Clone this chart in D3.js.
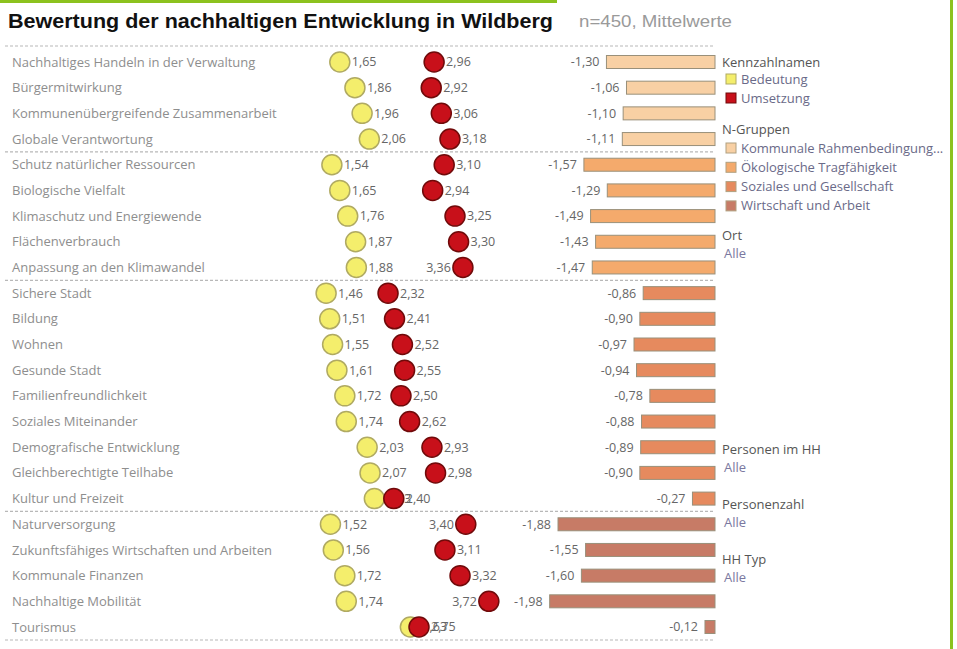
<!DOCTYPE html>
<html>
<head>
<meta charset="utf-8">
<script src="https://cdn.jsdelivr.net/npm/d3@7"></script>
<style>
  body { margin: 0; background: #fff; }
  svg { display: block; }
</style>
</head>
<body>
<svg width="957" height="649"></svg>
<script>
// Kennzahlen je Thema (Bedeutung / Umsetzung / Differenz)
var themen = [
  "Nachhaltiges Handeln in der Verwaltung", "Bürgermitwirkung", "Kommunenübergreifende Zusammenarbeit",
  "Globale Verantwortung", "Schutz natürlicher Ressourcen", "Biologische Vielfalt",
  "Klimaschutz und Energiewende", "Flächenverbrauch", "Anpassung an den Klimawandel",
  "Sichere Stadt", "Bildung", "Wohnen", "Gesunde Stadt", "Familienfreundlichkeit",
  "Soziales Miteinander", "Demografische Entwicklung", "Gleichberechtigte Teilhabe",
  "Kultur und Freizeit", "Naturversorgung", "Zukunftsfähiges Wirtschaften und Arbeiten",
  "Kommunale Finanzen", "Nachhaltige Mobilität", "Tourismus"
];
var bedeutung = [1.65, 1.86, 1.96, 2.06, 1.54, 1.65, 1.76, 1.87, 1.88, 1.46, 1.51, 1.55, 1.61, 1.72,
                 1.74, 2.03, 2.07, 2.13, 1.52, 1.56, 1.72, 1.74, 2.63];
var umsetzung = [2.96, 2.92, 3.06, 3.18, 3.10, 2.94, 3.25, 3.30, 3.36, 2.32, 2.41, 2.52, 2.55, 2.50,
                 2.62, 2.93, 2.98, 2.40, 3.40, 3.11, 3.32, 3.72, 2.75];
var differenz = [-1.30, -1.06, -1.10, -1.11, -1.57, -1.29, -1.49, -1.43, -1.47, -0.86, -0.90, -0.97,
                 -0.94, -0.78, -0.88, -0.89, -0.90, -0.27, -1.88, -1.55, -1.60, -1.98, -0.12];
var gruppe = [0, 0, 0, 0, 1, 1, 1, 1, 1, 2, 2, 2, 2, 2, 2, 2, 2, 2, 3, 3, 3, 3, 3];
var gruppenNamen = ["Kommunale Rahmenbedingung...", "Ökologische Tragfähigkeit",
                    "Soziales und Gesellschaft", "Wirtschaft und Arbeit"];
var gruppenFarben = ["#f8d0a4", "#f4aa6c", "#e68a5e", "#c77b66"];

var rows = themen.map(function(t, i) {
  return { name: t, bed: bedeutung[i], ums: umsetzung[i], diff: differenz[i], g: gruppe[i] };
});

// deutsches Zahlenformat, Bindestrich als Minus
var fmt = function(v) { return d3.format(".2f")(v).replace(".", ",").replace("\u2212", "-"); };

var svg = d3.select("svg");

// grüne Rahmenlinien
svg.append("rect").attr("x", 0).attr("y", 0).attr("width", 557).attr("height", 3).attr("fill", "#8cc21e");
svg.append("rect").attr("x", 950).attr("y", 0).attr("width", 3).attr("height", 649).attr("fill", "#8cc21e");

// Titel
svg.append("text").attr("x", 8).attr("y", 28)
  .attr("font-family", "Liberation Sans, Arial, sans-serif").attr("font-weight", "bold")
  .attr("font-size", 20.5).attr("fill", "#111")
  .attr("textLength", 545).attr("lengthAdjust", "spacingAndGlyphs")
  .text("Bewertung der nachhaltigen Entwicklung in Wildberg");
svg.append("text").attr("x", 579).attr("y", 27)
  .attr("font-family", "Liberation Sans, Arial, sans-serif")
  .attr("font-size", 17).attr("fill", "#9a9a9a")
  .attr("textLength", 153).attr("lengthAdjust", "spacingAndGlyphs")
  .text("n=450, Mittelwerte");

var y = d3.scalePoint().domain(themen).range([62, 627]);
var step = y.step();
var xDot = d3.scaleLinear().domain([1, 4]).range([293, 509]);
var barW = d3.scaleLinear().domain([0, 2]).range([0, 167]);
var barRight = 715;

var font = "Open Sans, DejaVu Sans, sans-serif";

// Trennlinien
var seps = [y(themen[0]) - 16];
rows.forEach(function(d, i) {
  if (i < rows.length - 1 && rows[i + 1].g !== d.g) seps.push(y(d.name) + step / 2);
});
seps.push(y(themen[themen.length - 1]) + 13);
svg.append("g").selectAll("line").data(seps).enter().append("line")
  .attr("x1", 5).attr("x2", 715).attr("y1", d => d).attr("y2", d => d)
  .attr("stroke", "#b8b8b8").attr("stroke-width", 1.2).attr("stroke-dasharray", "3,2");

// Themenbeschriftungen
svg.append("g").selectAll("text").data(rows).enter().append("text")
  .attr("x", 12).attr("y", d => y(d.name)).attr("dy", "0.35em")
  .attr("font-family", font).attr("font-size", 13).attr("fill", "#8e8e8e")
  .text(d => d.name);

// Balken (Differenz)
var bars = svg.append("g");
bars.selectAll("rect").data(rows).enter().append("rect")
  .attr("x", d => barRight - barW(-d.diff)).attr("y", d => y(d.name) - 6.5)
  .attr("width", d => barW(-d.diff)).attr("height", 13)
  .attr("fill", d => gruppenFarben[d.g]).attr("stroke", "#99907a").attr("stroke-width", 1);
bars.selectAll("text").data(rows).enter().append("text")
  .attr("x", d => barRight - barW(-d.diff) - 7).attr("y", d => y(d.name)).attr("dy", "0.35em")
  .attr("text-anchor", "end").attr("font-family", font).attr("font-size", 12.5).attr("fill", "#666")
  .text(d => fmt(d.diff));

// Punkte: Bedeutung
var dots = svg.append("g");
dots.selectAll("circle.bed").data(rows).enter().append("circle").attr("class", "bed")
  .attr("cx", d => xDot(d.bed)).attr("cy", d => y(d.name)).attr("r", 10)
  .attr("fill", "#f4ee6c").attr("stroke", "#b0aa62").attr("stroke-width", 1.5);
dots.selectAll("text.bed").data(rows).enter().append("text").attr("class", "bed")
  .attr("x", d => xDot(d.bed) + 12).attr("y", d => y(d.name)).attr("dy", "0.35em")
  .attr("font-family", font).attr("font-size", 12.5).attr("fill", "#666")
  .text(d => fmt(d.bed));

// Punkte: Umsetzung
dots.selectAll("circle.ums").data(rows).enter().append("circle").attr("class", "ums")
  .attr("cx", d => xDot(d.ums)).attr("cy", d => y(d.name)).attr("r", 10)
  .attr("fill", "#c8101a").attr("stroke", "#700a0a").attr("stroke-width", 1.5);
dots.selectAll("text.ums").data(rows).enter().append("text").attr("class", "ums")
  .attr("x", d => d.ums >= 3.35 ? xDot(d.ums) - 12 : xDot(d.ums) + 12)
  .attr("text-anchor", d => d.ums >= 3.35 ? "end" : "start")
  .attr("y", d => y(d.name)).attr("dy", "0.35em")
  .attr("font-family", font).attr("font-size", 12.5).attr("fill", "#666")
  .text(d => fmt(d.ums));

// Legende
var lg = svg.append("g").attr("font-family", font).attr("font-size", 13);
var heads = [["Kennzahlnamen", 62], ["N-Gruppen", 129], ["Ort", 235], ["Personen im HH", 449],
             ["Personenzahl", 504], ["HH Typ", 559]];
lg.selectAll("text.head").data(heads).enter().append("text").attr("class", "head")
  .attr("x", 722).attr("y", d => d[1]).attr("dy", "0.35em").attr("fill", "#555").text(d => d[0]);
var alle = [253, 467, 522, 577];
lg.selectAll("text.alle").data(alle).enter().append("text").attr("class", "alle")
  .attr("x", 724).attr("y", d => d).attr("dy", "0.35em").attr("fill", "#7a78a0").text("Alle");

var items = [
  { name: "Bedeutung", fill: "#f4ee6c", stroke: "#b0aa62", y: 79 },
  { name: "Umsetzung", fill: "#c8101a", stroke: "#700a0a", y: 98 }
].concat(gruppenNamen.map(function(n, i) {
  return { name: n, fill: gruppenFarben[i], stroke: "#b0a080", y: 148 + i * 19.3 };
}));
lg.selectAll("rect.item").data(items).enter().append("rect").attr("class", "item")
  .attr("x", 726).attr("y", d => d.y - 5).attr("width", 10).attr("height", 10)
  .attr("fill", d => d.fill).attr("stroke", d => d.stroke);
lg.selectAll("text.item").data(items).enter().append("text").attr("class", "item")
  .attr("x", 741).attr("y", d => d.y).attr("dy", "0.35em").attr("fill", "#6a6a88").text(d => d.name);
</script>
</body>
</html>
